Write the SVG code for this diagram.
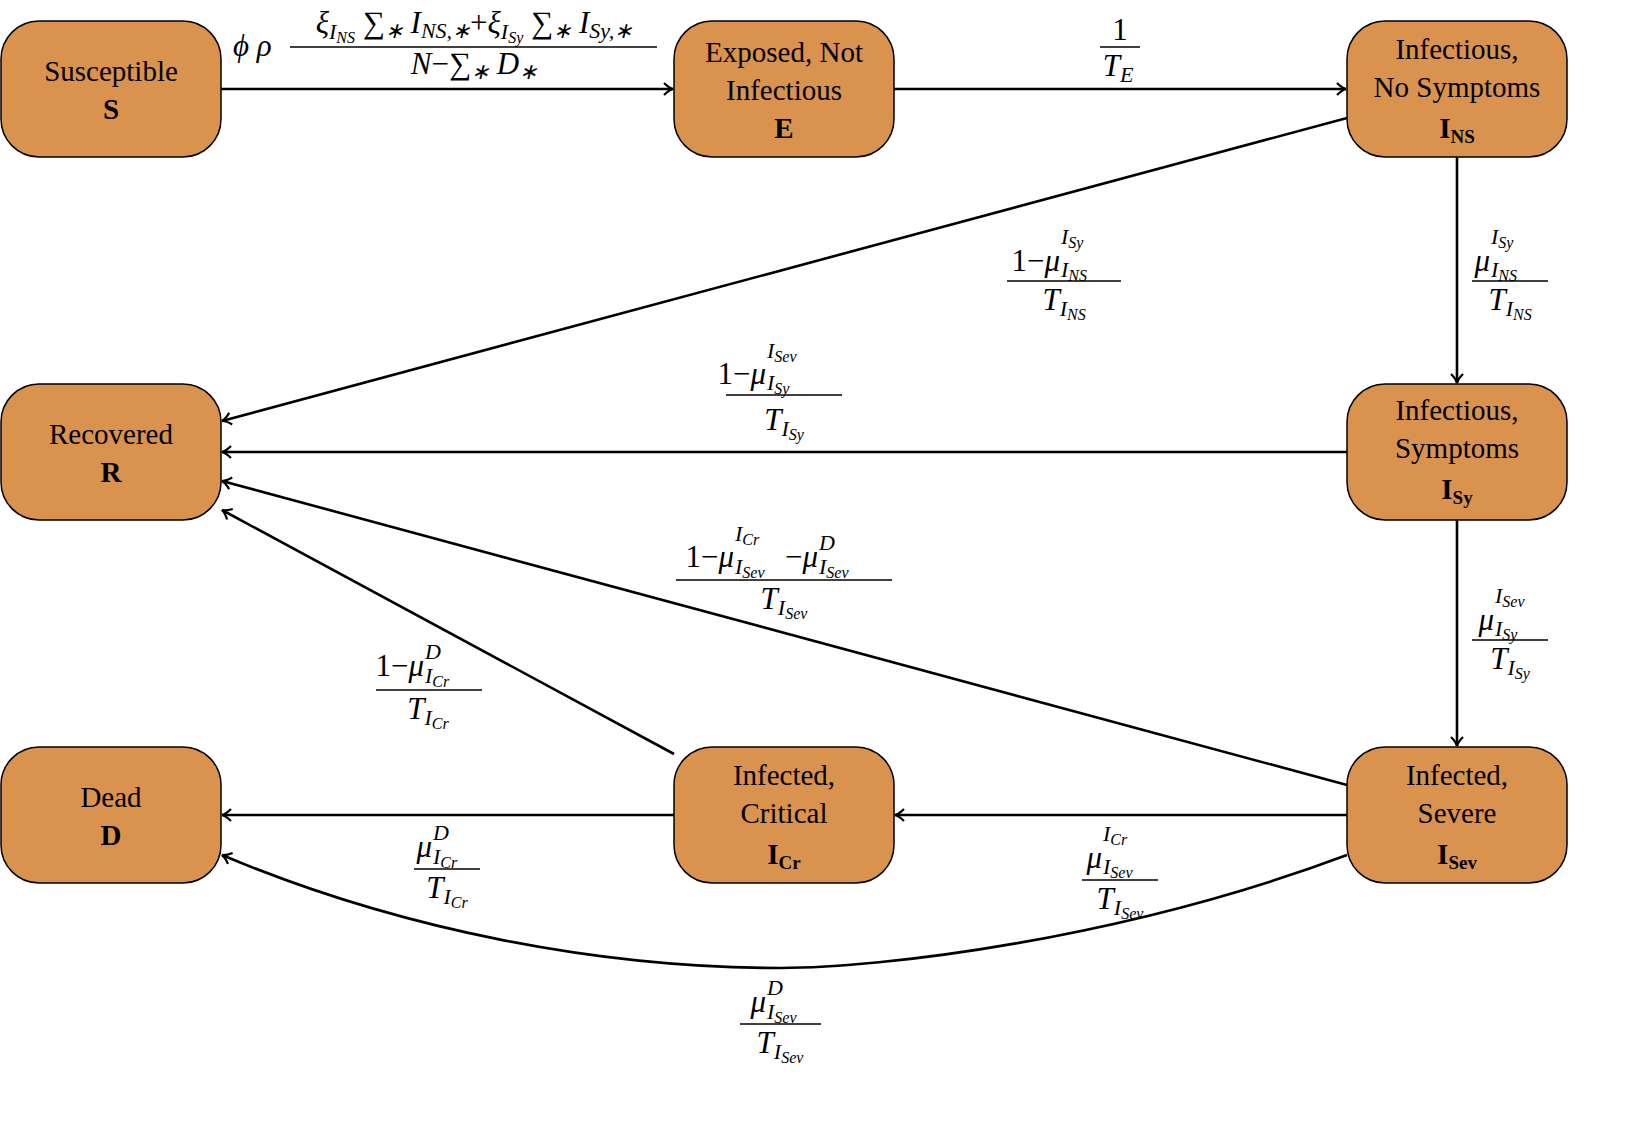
<svg xmlns="http://www.w3.org/2000/svg" width="1640" height="1124" viewBox="0 0 1640 1124">
<defs>
<marker id="ar" viewBox="-10 -7 12 14" markerWidth="12" markerHeight="14" refX="0" refY="0" orient="auto" markerUnits="userSpaceOnUse">
<path d="M-9,-6 Q-4,-1 0,0 Q-4,1 -9,6" fill="none" stroke="#000" stroke-width="2.2"/>
</marker>
<style>
.n rect{fill:#d9934e;stroke:#000;stroke-width:1.5}
.n text{font-family:"Liberation Serif",serif;font-size:29px;text-anchor:middle;fill:#000}
.n .b{font-weight:bold}
.e path{fill:none;stroke:#000;stroke-width:2.6;marker-end:url(#ar)}
.m{font-family:"Liberation Serif",serif;font-style:italic;font-size:31px;fill:#000}
.s{font-size:22px}
.ss{font-size:16px}
.up{font-style:normal}
.c{text-anchor:middle}
.en{text-anchor:end}
.fl{stroke:#000;stroke-width:1.3}
</style>
</defs>
<rect width="1640" height="1124" fill="#fff"/>
<g id="S" class="n"><rect x="1" y="21" width="220" height="136" rx="38"/><text x="111" y="81">Susceptible</text><text x="111" y="119" class="b">S</text></g>
<g id="E" class="n"><rect x="674" y="21" width="220" height="136" rx="38"/><text x="784" y="62">Exposed, Not</text><text x="784" y="100">Infectious</text><text x="784" y="138" class="b">E</text></g>
<g id="INS" class="n"><rect x="1347" y="21" width="220" height="136" rx="38"/><text x="1457" y="59">Infectious,</text><text x="1457" y="97">No Symptoms</text><text x="1457" y="138" class="b">I<tspan font-size="19" dy="5">NS</tspan></text></g>
<g id="R" class="n"><rect x="1" y="384" width="220" height="136" rx="38"/><text x="111" y="444">Recovered</text><text x="111" y="482" class="b">R</text></g>
<g id="ISy" class="n"><rect x="1347" y="384" width="220" height="136" rx="38"/><text x="1457" y="420">Infectious,</text><text x="1457" y="458">Symptoms</text><text x="1457" y="499" class="b">I<tspan font-size="19" dy="5">Sy</tspan></text></g>
<g id="D" class="n"><rect x="1" y="747" width="220" height="136" rx="38"/><text x="111" y="807">Dead</text><text x="111" y="845" class="b">D</text></g>
<g id="ICr" class="n"><rect x="674" y="747" width="220" height="136" rx="38"/><text x="784" y="785">Infected,</text><text x="784" y="823">Critical</text><text x="784" y="864" class="b">I<tspan font-size="19" dy="5">Cr</tspan></text></g>
<g id="ISev" class="n"><rect x="1347" y="747" width="220" height="136" rx="38"/><text x="1457" y="785">Infected,</text><text x="1457" y="823">Severe</text><text x="1457" y="864" class="b">I<tspan font-size="19" dy="5">Sev</tspan></text></g>
<g id="connectors" class="e">
<path d="M221,89 H673"/>
<path d="M894,89 H1346"/>
<path d="M1347,118 L222,421"/>
<path d="M1457,157 V383"/>
<path d="M1347,452 H222"/>
<path d="M1457,520 V746"/>
<path d="M1347,785 L222,481"/>
<path d="M1347,815 H895"/>
<path d="M674,754 L222,510"/>
<path d="M674,815 H222"/>
<path d="M1347,855 C1120,940 880,968 780,968 C600,968 400,930 222,855"/>
</g>
<g id="labels">
<text x="233" y="56" class="m">ϕ ρ</text>
<text x="474" y="33" class="m c" font-size="25">ξ<tspan class="s" dy="6">I</tspan><tspan class="ss" dy="4">NS</tspan><tspan dy="-10" class="up"> ∑</tspan><tspan class="s" dy="5">∗</tspan><tspan dy="-5"> I</tspan><tspan class="s" dy="5">NS,∗</tspan><tspan class="up" dy="-5">+</tspan>ξ<tspan class="s" dy="6">I</tspan><tspan class="ss" dy="4">Sy</tspan><tspan dy="-10" class="up"> ∑</tspan><tspan class="s" dy="5">∗</tspan><tspan dy="-5"> I</tspan><tspan class="s" dy="5">Sy,∗</tspan></text>
<line x1="290" y1="47" x2="657" y2="47" class="fl"/>
<text x="474" y="74" class="m c" font-size="25">N<tspan class="up">−∑</tspan><tspan class="s" dy="5">∗</tspan><tspan dy="-5"> D</tspan><tspan class="s" dy="5">∗</tspan></text>

<text x="1120" y="40" class="m c up">1</text>
<line x1="1100" y1="47" x2="1140" y2="47" class="fl"/>
<text x="1118" y="76" class="m c">T<tspan class="s" dy="6">E</tspan></text>

<text x="1060" y="271" class="m en"><tspan class="up">1−</tspan>μ</text>
<text x="1061" y="244" class="m s">I<tspan class="ss" dy="4">Sy</tspan></text>
<text x="1061" y="277" class="m s">I<tspan class="ss" dy="4">NS</tspan></text>
<line x1="1007" y1="281" x2="1121" y2="281" class="fl"/>
<text x="1064" y="310" class="m c">T<tspan class="s" dy="6">I</tspan><tspan class="ss" dy="4">NS</tspan></text>

<text x="1490" y="271" class="m en">μ</text>
<text x="1491" y="244" class="m s">I<tspan class="ss" dy="4">Sy</tspan></text>
<text x="1491" y="277" class="m s">I<tspan class="ss" dy="4">NS</tspan></text>
<line x1="1472" y1="281" x2="1548" y2="281" class="fl"/>
<text x="1510" y="310" class="m c">T<tspan class="s" dy="6">I</tspan><tspan class="ss" dy="4">NS</tspan></text>

<text x="766" y="384" class="m en"><tspan class="up">1−</tspan>μ</text>
<text x="767" y="358" class="m s">I<tspan class="ss" dy="4">Sev</tspan></text>
<text x="767" y="390" class="m s">I<tspan class="ss" dy="4">Sy</tspan></text>
<line x1="726" y1="395" x2="842" y2="395" class="fl"/>
<text x="784" y="430" class="m c">T<tspan class="s" dy="6">I</tspan><tspan class="ss" dy="4">Sy</tspan></text>

<text x="1494" y="630" class="m en">μ</text>
<text x="1495" y="603" class="m s">I<tspan class="ss" dy="4">Sev</tspan></text>
<text x="1495" y="636" class="m s">I<tspan class="ss" dy="4">Sy</tspan></text>
<line x1="1472" y1="640" x2="1548" y2="640" class="fl"/>
<text x="1510" y="669" class="m c">T<tspan class="s" dy="6">I</tspan><tspan class="ss" dy="4">Sy</tspan></text>

<text x="734" y="567" class="m en"><tspan class="up">1−</tspan>μ</text>
<text x="735" y="541" class="m s">I<tspan class="ss" dy="4">Cr</tspan></text>
<text x="735" y="574" class="m s">I<tspan class="ss" dy="4">Sev</tspan></text>
<text x="818" y="567" class="m en"><tspan class="up">−</tspan>μ</text>
<text x="819" y="550" class="m s">D</text>
<text x="819" y="574" class="m s">I<tspan class="ss" dy="4">Sev</tspan></text>
<line x1="676" y1="580" x2="892" y2="580" class="fl"/>
<text x="784" y="609" class="m c">T<tspan class="s" dy="6">I</tspan><tspan class="ss" dy="4">Sev</tspan></text>

<text x="424" y="676" class="m en"><tspan class="up">1−</tspan>μ</text>
<text x="425" y="659" class="m s">D</text>
<text x="425" y="683" class="m s">I<tspan class="ss" dy="4">Cr</tspan></text>
<line x1="376" y1="690" x2="482" y2="690" class="fl"/>
<text x="428" y="719" class="m c">T<tspan class="s" dy="6">I</tspan><tspan class="ss" dy="4">Cr</tspan></text>

<text x="432" y="857" class="m en">μ</text>
<text x="433" y="840" class="m s">D</text>
<text x="433" y="864" class="m s">I<tspan class="ss" dy="4">Cr</tspan></text>
<line x1="414" y1="869" x2="480" y2="869" class="fl"/>
<text x="447" y="898" class="m c">T<tspan class="s" dy="6">I</tspan><tspan class="ss" dy="4">Cr</tspan></text>

<text x="1102" y="868" class="m en">μ</text>
<text x="1103" y="841" class="m s">I<tspan class="ss" dy="4">Cr</tspan></text>
<text x="1103" y="874" class="m s">I<tspan class="ss" dy="4">Sev</tspan></text>
<line x1="1082" y1="880" x2="1158" y2="880" class="fl"/>
<text x="1120" y="909" class="m c">T<tspan class="s" dy="6">I</tspan><tspan class="ss" dy="4">Sev</tspan></text>

<text x="766" y="1012" class="m en">μ</text>
<text x="767" y="995" class="m s">D</text>
<text x="767" y="1019" class="m s">I<tspan class="ss" dy="4">Sev</tspan></text>
<line x1="740" y1="1024" x2="821" y2="1024" class="fl"/>
<text x="780" y="1053" class="m c">T<tspan class="s" dy="6">I</tspan><tspan class="ss" dy="4">Sev</tspan></text>
</g>
</svg>
